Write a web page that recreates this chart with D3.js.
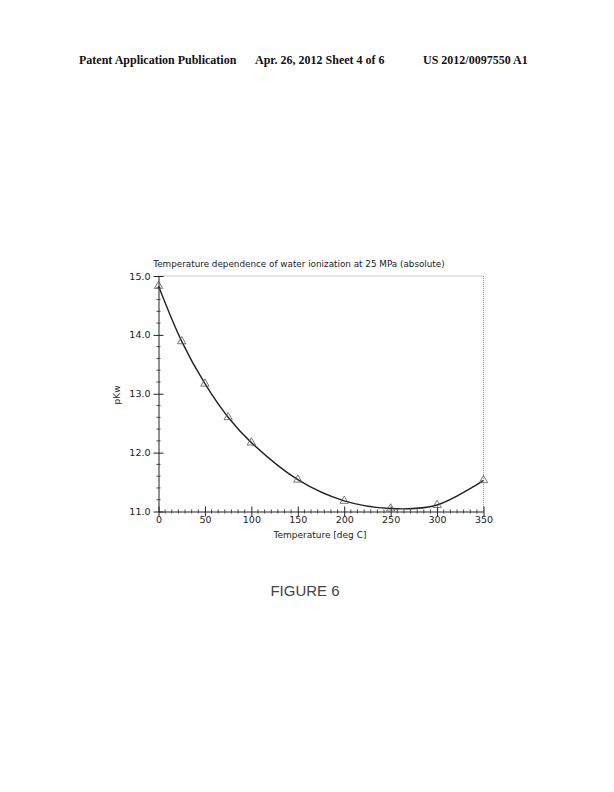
<!DOCTYPE html>
<html><head><meta charset="utf-8">
<script src="https://cdn.jsdelivr.net/npm/d3@7"></script>
<style>body{margin:0;background:#fff}svg{display:block}</style>
</head><body>
<svg id="c" width="614" height="792"></svg>
<script>
const temps = [0, 25, 50, 75, 100, 150, 200, 250, 300, 350];
const pKw = [14.83, 13.89, 13.17, 12.60, 12.17, 11.54, 11.18, 11.05, 11.11, 11.53];
const xTicks = [0, 50, 100, 150, 200, 250, 300, 350];
const yTicks = [11.0, 12.0, 13.0, 14.0, 15.0];
const titleText = "Temperature dependence of water ionization at 25 MPa (absolute)";
const xLabel = "Temperature [deg C]";
const yLabel = "pKw";

const svg = d3.select("#c");
const x = d3.scaleLinear().domain([0, 350]).range([158.5, 483.5]);
const y = d3.scaleLinear().domain([11, 15]).range([511.5, 276]);

// header
const hdr = svg.append("g").attr("font-family", "Liberation Serif, Times New Roman, serif")
  .attr("font-weight", "bold").attr("font-size", 12).attr("fill", "#111");
hdr.append("text").attr("x", 79).attr("y", 64).text("Patent Application Publication");
hdr.append("text").attr("x", 255).attr("y", 64).text("Apr. 26, 2012  Sheet 4 of 6");
hdr.append("text").attr("x", 423).attr("y", 64).text("US 2012/0097550 A1");

// frame top/right dotted
svg.append("line").attr("x1", x(0)).attr("x2", x(350)).attr("y1", y(15)).attr("y2", y(15))
  .attr("stroke", "#999").attr("stroke-width", 1).attr("stroke-dasharray", "1,1");
svg.append("line").attr("x1", x(350)).attr("x2", x(350)).attr("y1", y(15)).attr("y2", y(11))
  .attr("stroke", "#999").attr("stroke-width", 1).attr("stroke-dasharray", "1,1");

const font = "DejaVu Sans, Verdana, sans-serif";
// x axis
const xa = svg.append("g").attr("transform", `translate(0,${y(11)})`)
  .call(d3.axisBottom(x).tickValues(xTicks).tickFormat(d3.format("d")).tickSize(0).tickPadding(5));
xa.select(".domain").attr("stroke", "#222");
xa.selectAll("text").attr("font-family", font).attr("font-size", 9.5).attr("fill", "#222");
xa.selectAll(".tick line").remove();
xa.selectAll(".tick").append("line").attr("y1", -5).attr("y2", 5).attr("stroke", "#222");
const xMinor = d3.range(0, 350, 50 / 7).filter(v => v % 50 > 0.01);
xa.selectAll(".mn").data(xMinor).join("line").attr("class", "mn")
  .attr("x1", d => x(d)).attr("x2", d => x(d)).attr("y1", -2).attr("y2", 2).attr("stroke", "#444");

// y axis
const ya = svg.append("g").attr("transform", `translate(${x(0)},0)`)
  .call(d3.axisLeft(y).tickValues(yTicks).tickFormat(d3.format(".1f")).tickSize(0).tickPadding(8));
ya.select(".domain").attr("stroke", "#222");
ya.selectAll("text").attr("font-family", font).attr("font-size", 9.5).attr("fill", "#222");
ya.selectAll(".tick line").remove();
ya.selectAll(".tick").append("line").attr("x1", -5).attr("x2", 5).attr("stroke", "#222");
const yMinor = d3.range(11.2, 15, 0.2).filter(v => Math.abs(v - Math.round(v)) > 0.01);
ya.selectAll(".mn").data(yMinor).join("line").attr("class", "mn")
  .attr("y1", d => y(d)).attr("y2", d => y(d)).attr("x1", -2).attr("x2", 2).attr("stroke", "#444");

// curve
const pts = temps.map((t, i) => [t, pKw[i]]);
svg.append("path").datum(pts)
  .attr("d", d3.line().x(d => x(d[0])).y(d => y(d[1])).curve(d3.curveCatmullRom.alpha(0.5)))
  .attr("fill", "none").attr("stroke", "#222").attr("stroke-width", 1.4);

// markers
const tri = d3.symbol().type(d3.symbolTriangle).size(30);
svg.selectAll(".m").data(pts).join("path").attr("class", "m")
  .attr("transform", d => `translate(${x(d[0])},${y(d[1])})`)
  .attr("d", tri).attr("fill", "none").attr("stroke", "#555").attr("stroke-width", 0.8);

// texts
svg.append("text").attr("x", 299).attr("y", 267).attr("text-anchor", "middle")
  .attr("font-family", font).attr("font-size", 8.8).attr("fill", "#222").text(titleText);
svg.append("text").attr("x", 320).attr("y", 538).attr("text-anchor", "middle")
  .attr("font-family", font).attr("font-size", 9).attr("fill", "#222").text(xLabel);
svg.append("text").attr("transform", "translate(120,395) rotate(-90)").attr("text-anchor", "middle")
  .attr("font-family", font).attr("font-size", 9).attr("fill", "#222").text(yLabel);
svg.append("text").attr("x", 305).attr("y", 596).attr("text-anchor", "middle")
  .attr("font-family", "Liberation Sans, Arial, sans-serif").attr("font-size", 15).attr("fill", "#444").text("FIGURE 6");
</script>
</body></html>
